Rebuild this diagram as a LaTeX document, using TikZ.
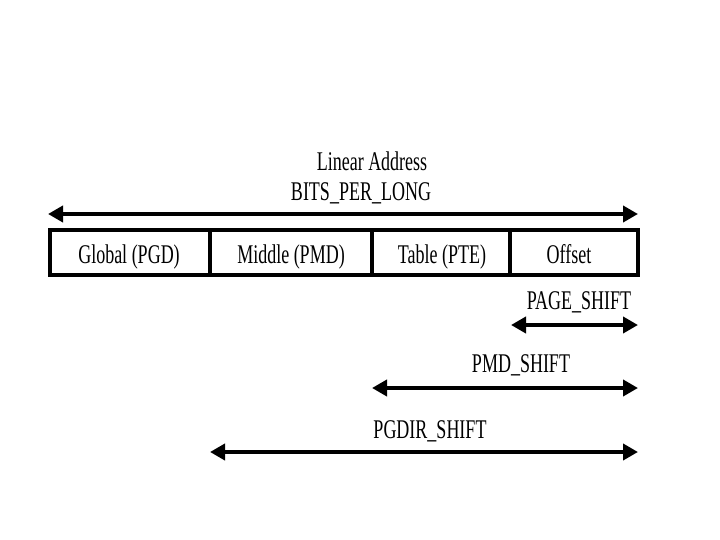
\documentclass[tikz,border=0pt]{standalone}
\usepackage{fontspec}
\setmainfont{Liberation Serif}
\usetikzlibrary{arrows.meta}
\newcommand{\tall}[1]{\scalebox{1}[1.5]{#1}}
\begin{document}
\begin{tikzpicture}[x=1pt,y=-1pt,
  lbl/.style={font=\fontsize{18}{20}\selectfont, inner sep=0pt, anchor=base},
  span/.style={line width=4pt, {Triangle[length=15pt,width=16pt]}-{Triangle[length=15pt,width=16pt]}},
  field/.style={draw, line width=3.8pt}]
\useasboundingbox (0,0) rectangle (720,540);
% box
\draw[field] (50,230) rectangle (638,275);
\draw[field] (210,230) -- (210,275);
\draw[field] (372,230) -- (372,275);
\draw[field] (510,230) -- (510,275);
\node[lbl] (pgd) at (129,263) {\tall{Global (PGD)}};
\node[lbl] (pmd) at (291,263) {\tall{Middle (PMD)}};
\node[lbl] (pte) at (442,263) {\tall{Table (PTE)}};
\node[lbl] (off) at (569,263) {\tall{Offset}};
% titles
\node[lbl] (la) at (372,171) {\tall{Linear Address}};
\node[lbl] (bpl) at (361,201) {\tall{BITS\_PER\_LONG}};
% coordinates
\coordinate (a0) at (48,214);
\coordinate (a1) at (638,214);
\coordinate (b0) at (511,325);
\coordinate (b1) at (638,325);
\coordinate (c0) at (372,388);
\coordinate (c1) at (638,388);
\coordinate (d0) at (210,452);
\coordinate (d1) at (638,452);
\draw[span] (a0) -- (a1);
\draw[span] (b0) -- (b1);
\draw[span] (c0) -- (c1);
\draw[span] (d0) -- (d1);
\node[lbl] (ps) at (579,309) {\tall{PAGE\_SHIFT}};
\node[lbl] (ms) at (521,372) {\tall{PMD\_SHIFT}};
\node[lbl] (gs) at (430,438) {\tall{PGDIR\_SHIFT}};
\end{tikzpicture}
\end{document}
